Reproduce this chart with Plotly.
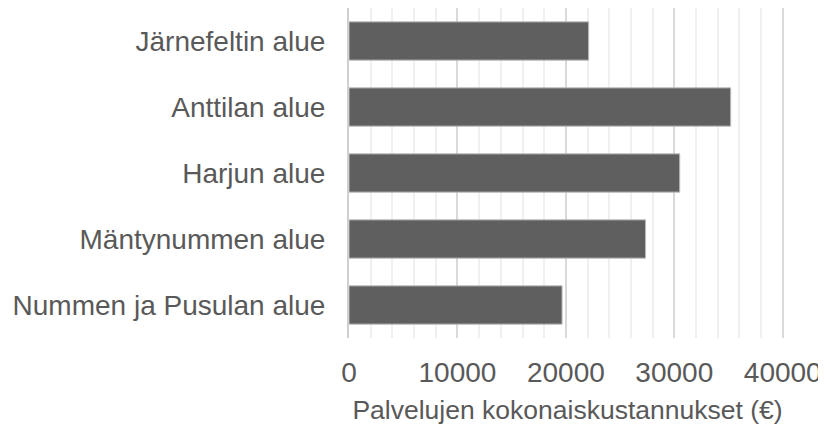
import plotly.graph_objects as go

categories = ["Järnefeltin alue", "Anttilan alue", "Harjun alue", "Mäntynummen alue", "Nummen ja Pusulan alue"]
values = [22100, 35200, 30500, 27350, 19650]
x_tickvals = [0, 10000, 20000, 30000, 40000]
x_ticktext = ["0", "10000", "20000", "30000", "40000"]
x_title = "Palvelujen kokonaiskustannukset (€)"

font_fam = "Liberation Sans, Arial, sans-serif"
txt = "#595959"

fig = go.Figure(go.Bar(
    y=categories, x=values, orientation="h",
    marker=dict(color="#5f5f5f", line=dict(color="#bdbdbd", width=1)),
    width=0.58,
))

fig.update_layout(
    width=826, height=426,
    margin=dict(l=341, r=48, t=0, b=96),
    paper_bgcolor="white", plot_bgcolor="white",
    showlegend=False,
    font=dict(family=font_fam, color=txt, size=27),
)
fig.update_xaxes(
    range=[0, 40300], automargin=False,
    tickvals=x_tickvals, ticktext=x_ticktext,
    showgrid=True, gridcolor="#d9d9d9", gridwidth=1.5,
    minor=dict(tickvals=[v for v in range(2000, 40000, 2000) if v % 10000], showgrid=True, gridcolor="#f0f0f0", gridwidth=1.5),
    zeroline=False, showline=False,
    tickfont=dict(size=28, color=txt),
    ticklabelstandoff=15,
    title=dict(text=x_title, font=dict(size=26.5, color=txt), standoff=13),
)
fig.update_yaxes(
    categoryorder="array", categoryarray=categories[::-1], automargin=False,
    showgrid=False, zeroline=False,
    showline=True, linecolor="#d0d0d0", linewidth=2,
    tickfont=dict(size=28, color=txt),
    ticklabelstandoff=16,
)
fig.write_html("out.html")
